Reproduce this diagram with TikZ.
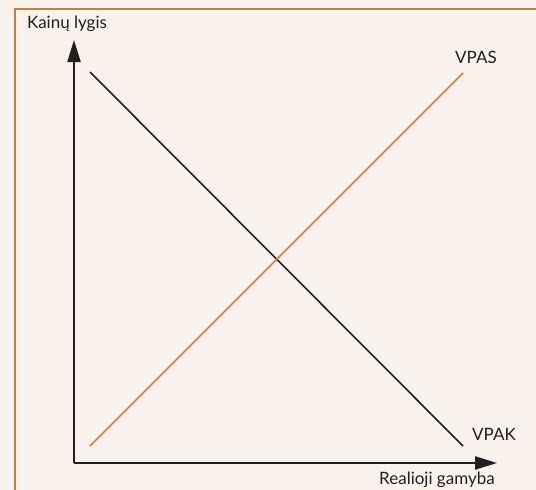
\documentclass[tikz,border=0pt]{standalone}
\usepackage{fontspec}
\setmainfont{Lato}
\usetikzlibrary{arrows.meta}
\definecolor{bg}{HTML}{F9F1EB}
\definecolor{frameor}{HTML}{C97A45}
\definecolor{lineor}{HTML}{D97C45}
\definecolor{ink}{HTML}{231F20}
\tikzset{
  lbl/.style={font=\fontsize{17}{20}\selectfont, text=ink, inner sep=0pt},
  axis/.style={draw=ink, line width=2.2pt, -{Triangle[length=22pt,width=13pt]}},
}
\begin{document}
\begin{tikzpicture}[x=1pt,y=-1pt]
\fill[bg] (0,0) rectangle (536,490);
\useasboundingbox (0,0) rectangle (536,490);
\draw[frameor, line width=2pt] (15,491) -- (15,9) -- (537,9);
\coordinate (o) at (74,463);
\coordinate (ytip) at (74,40);
\coordinate (xtip) at (497,463);
\coordinate (k1) at (90,72);
\coordinate (k2) at (463,446);
\coordinate (s1) at (90,446);
\coordinate (s2) at (463,73);
\draw[axis] (o) -- (ytip);
\draw[axis] (o) -- (xtip);
\draw[ink, line width=1.6pt] (k1) -- (k2);
\draw[lineor, line width=1.6pt] (s1) -- (s2);
\node[lbl] (ylab) at (67,24) {Kainų lygis};
\node[lbl] (xlab) at (437,480) {Realioji gamyba};
\node[lbl] (vpas) at (476,57) {VPAS};
\node[lbl] (vpak) at (494,434) {VPAK};
\end{tikzpicture}
\end{document}
